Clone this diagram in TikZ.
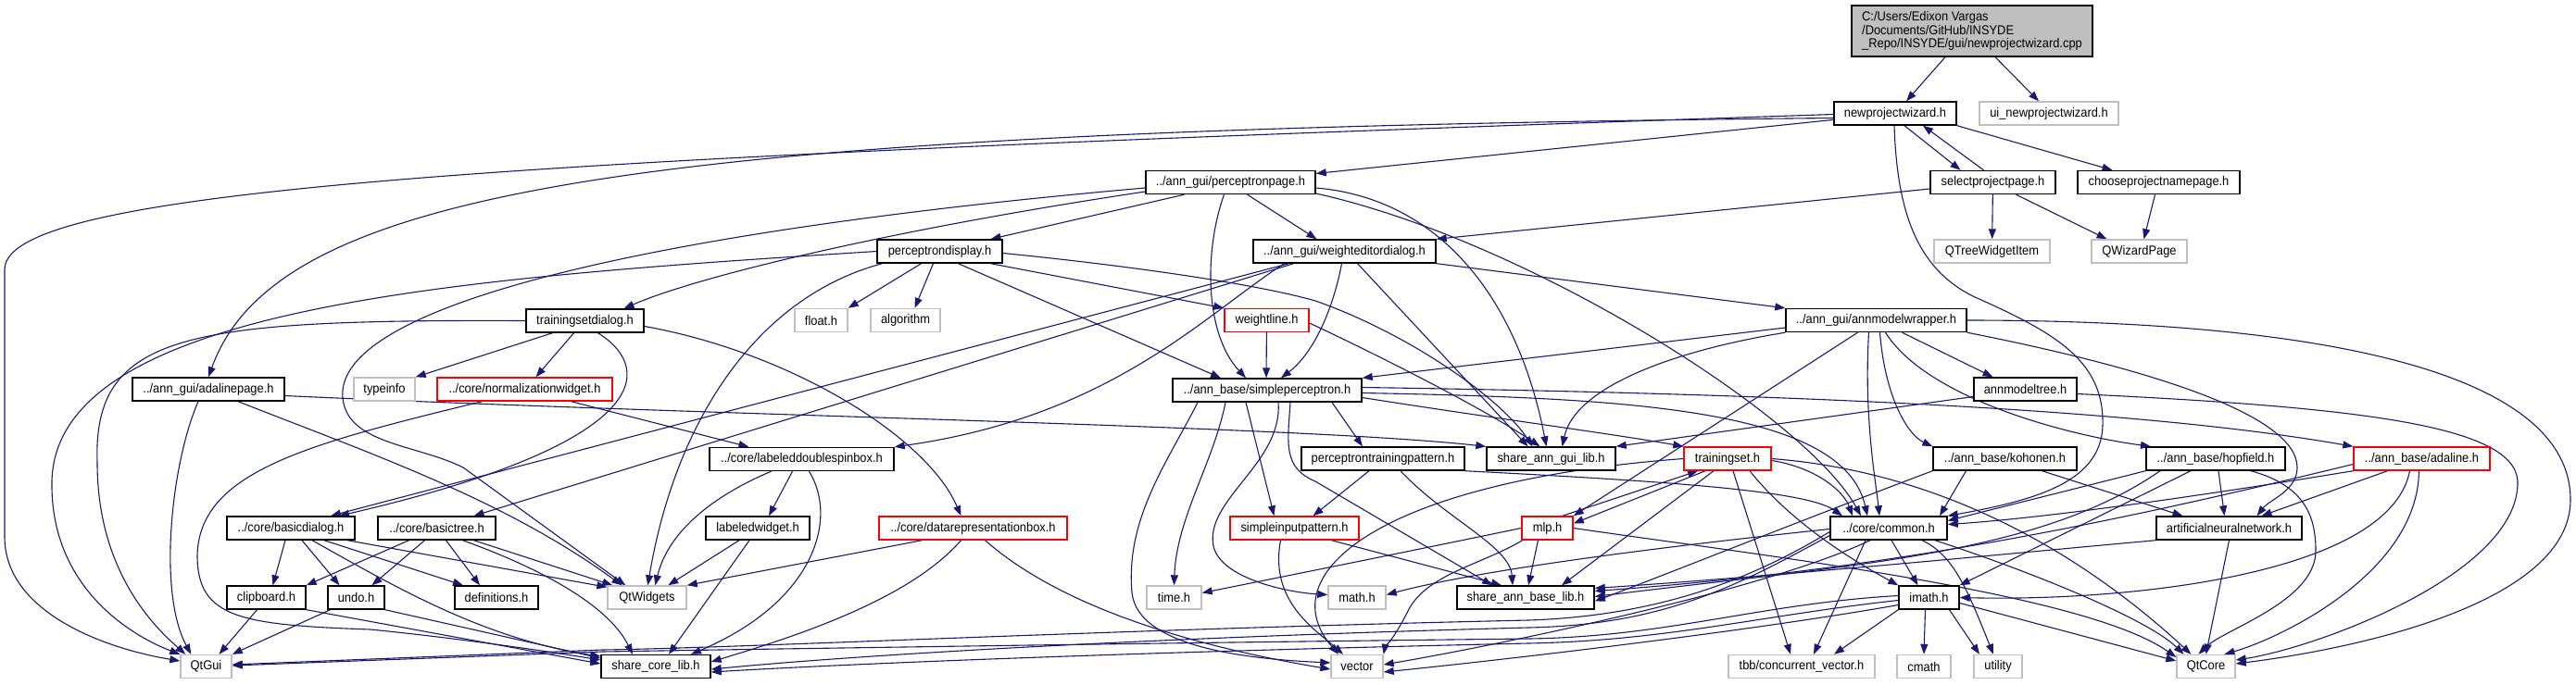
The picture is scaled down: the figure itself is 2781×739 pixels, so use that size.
\documentclass[tikz,border=0pt]{standalone}
\usepackage{fontspec}
\setmainfont{Liberation Sans}[FakeStretch=0.92]
\usetikzlibrary{arrows.meta}
\definecolor{edgec}{HTML}{191970}
\definecolor{extc}{HTML}{BFBFBF}
\definecolor{rootc}{HTML}{BFBFBF}
\newcommand{\nodefont}{\fontsize{14}{14.7}\selectfont}
\pgfdeclarelayer{bg}
\pgfdeclarelayer{edges}
\pgfsetlayers{bg,edges,main}
\tikzset{
  nb/.style={draw=black, line width=1.4pt, fill=white, inner sep=0pt, minimum height=25pt, font=\nodefont, text=black},
  gb/.style={nb, draw=extc},
  rb/.style={nb, draw=red},
  edg/.style={draw=edgec, line width=1.1pt, -{Triangle[length=11pt,width=8pt]}},
}
\begin{document}
\begin{tikzpicture}[x=1pt,y=-1pt]
\useasboundingbox (0,0) rectangle (2781,739);
\begin{pgfonlayer}{bg}
\fill[white] (0,0) rectangle (2781,739);
\end{pgfonlayer}
% nodes
\node[nb, fill=rootc, minimum width=260pt, minimum height=55pt, align=left] (root) at (2129,33.5) {C:/Users/Edixon Vargas\\/Documents/GitHub/INSYDE\\\_Repo/INSYDE/gui/newprojectwizard.cpp};
\node[nb, minimum width=132pt] (npw) at (2046,122.5) {newprojectwizard.h};
\node[gb, minimum width=150pt] (uinpw) at (2212,122.5) {ui\_newprojectwizard.h};
\node[nb, minimum width=183pt] (ppage) at (1328.5,197) {../ann\_gui/perceptronpage.h};
\node[nb, minimum width=135pt] (spp) at (2151.5,197) {selectprojectpage.h};
\node[nb, minimum width=175pt] (cpnp) at (2330.5,197) {chooseprojectnamepage.h};
\node[nb, minimum width=135pt] (pdisp) at (1014.5,271.5) {perceptrondisplay.h};
\node[nb, minimum width=197pt] (wed) at (1451.5,271.5) {../ann\_gui/weighteditordialog.h};
\node[gb, minimum width=125pt] (qtwi) at (2150.5,271.5) {QTreeWidgetItem};
\node[gb, minimum width=103pt] (qwp) at (2309.5,271.5) {QWizardPage};
\node[nb, minimum width=127pt] (tsd) at (631.5,346.5) {trainingsetdialog.h};
\node[gb, minimum width=57pt] (floath) at (886.5,346) {float.h};
\node[gb, minimum width=75pt] (algo) at (977.5,346) {algorithm};
\node[rb, minimum width=91pt] (wline) at (1367.5,346) {weightline.h};
\node[nb, minimum width=195pt] (amw) at (2025.5,346) {../ann\_gui/annmodelwrapper.h};
\node[nb, minimum width=164pt] (adp) at (225,420.5) {../ann\_gui/adalinepage.h};
\node[gb, minimum width=66pt] (typeinfo) at (415,420.5) {typeinfo};
\node[rb, minimum width=189pt] (normw) at (566.5,420.5) {../core/normalizationwidget.h};
\node[nb, minimum width=204pt] (sp) at (1368,421.5) {../ann\_base/simpleperceptron.h};
\node[nb, minimum width=111pt] (amt) at (2186.5,420.5) {annmodeltree.h};
\node[nb, minimum width=199pt] (ldsb) at (865.5,496) {../core/labeleddoublespinbox.h};
\node[nb, minimum width=176pt] (ptp) at (1493,495.5) {perceptrontrainingpattern.h};
\node[nb, minimum width=139pt] (sagl) at (1674.5,495.5) {share\_ann\_gui\_lib.h};
\node[rb, minimum width=94pt] (tset) at (1865,495.5) {trainingset.h};
\node[nb, minimum width=155pt] (koh) at (2164.5,495.5) {../ann\_base/kohonen.h};
\node[nb, minimum width=150pt] (hop) at (2392,495.5) {../ann\_base/hopfield.h};
\node[rb, minimum width=147pt] (adal) at (2614.5,495.5) {../ann\_base/adaline.h};
\node[nb, minimum width=138pt] (bdlg) at (314,570.5) {../core/basicdialog.h};
\node[nb, minimum width=127pt] (btree) at (471.5,570.5) {../core/basictree.h};
\node[nb, minimum width=112pt] (lw) at (818,570.5) {labeledwidget.h};
\node[rb, minimum width=203pt] (drb) at (1050.5,570.5) {../core/datarepresentationbox.h};
\node[rb, minimum width=139pt] (sip) at (1397.5,570.5) {simpleinputpattern.h};
\node[rb, minimum width=55pt] (mlp) at (1670.5,570.5) {mlp.h};
\node[nb, minimum width=126pt] (common) at (2039,570.5) {../core/common.h};
\node[nb, minimum width=157pt] (ann) at (2406.5,570.5) {artificialneuralnetwork.h};
\node[nb, minimum width=85pt] (clip) at (287.5,645.5) {clipboard.h};
\node[nb, minimum width=61pt] (undo) at (384.5,645.5) {undo.h};
\node[nb, minimum width=90pt] (defs) at (536,645.5) {definitions.h};
\node[gb, minimum width=85pt] (qtw) at (698.5,645.5) {QtWidgets};
\node[gb, minimum width=59pt] (timeh) at (1267.5,645.5) {time.h};
\node[gb, minimum width=62pt] (mathh) at (1465,645.5) {math.h};
\node[nb, minimum width=148pt] (sabl) at (1647,645.5) {share\_ann\_base\_lib.h};
\node[nb, minimum width=65pt] (imath) at (2082.5,645.5) {imath.h};
\node[gb, minimum width=55pt] (qtgui) at (222.5,720) {QtGui};
\node[nb, minimum width=118pt] (scl) at (708,720) {share\_core\_lib.h};
\node[gb, minimum width=56pt] (vector) at (1465,720) {vector};
\node[gb, minimum width=158pt] (tbb) at (1945,720) {tbb/concurrent\_vector.h};
\node[gb, minimum width=58pt] (cmath) at (2077,720) {cmath};
\node[gb, minimum width=52pt] (utility) at (2157,720) {utility};
\node[gb, minimum width=63pt] (qtcore) at (2381.5,720) {QtCore};

\begin{pgfonlayer}{edges}
% root
\draw[edg] ([xshift=-29pt]root.south) -- ([xshift=12pt]npw.north);
\draw[edg] ([xshift=25pt]root.south) -- ([xshift=-11pt]uinpw.north);
% npw
\draw[edg] ([yshift=-1pt]npw.west) .. controls (600,170) and (10,200) .. (5,290) -- (5,580) .. controls (5,660) and (110,700) .. ([yshift=6pt]qtgui.west);
\draw[edg] ([yshift=-5pt]npw.west) .. controls (700,140) and (300,200) .. (adp.north);
\draw[edg] (npw) -- (ppage);
\draw[edg] ([xshift=10pt]npw.south) -- ([xshift=-35pt]spp.north);
\draw[edg] (npw.south east) -- ([xshift=-50pt]cpnp.north);
\draw[edg] ([xshift=-1pt]npw.south) .. controls (2048,230) and (2070,290) .. (2130,320) .. controls (2220,360) and (2272,390) .. (2270,460) .. controls (2268,520) and (2200,540) .. (common.north east);
% spp, cpnp
\draw[edg] ([xshift=-10pt]spp.north) -- ([xshift=30pt]npw.south);
\draw[edg] (spp) -- (qtwi);
\draw[edg] ([xshift=25pt]spp.south) -- ([xshift=-35pt]qwp.north);
\draw[edg] ([yshift=-7pt]spp.west) -- (wed.north east);
\draw[edg] ([xshift=-4pt]cpnp.south) -- ([xshift=5pt]qwp.north);
% ppage
\draw[edg] ([yshift=-6pt]ppage.west) .. controls (700,250) and (360,330) .. (370,430) .. controls (375,480) and (450,480) .. (500,505) -- ([xshift=20pt]qtw.north west);
\draw[edg] ([yshift=-10pt]ppage.west) .. controls (950,250) and (750,300) .. ([xshift=42pt]tsd.north);
\draw[edg] ([xshift=-50pt]ppage.south) -- ([xshift=55pt]pdisp.north);
\draw[edg] ([xshift=-7pt]ppage.south) .. controls (1300,270) and (1300,360) .. ([xshift=-23pt]sp.north);
\draw[edg] ([xshift=18pt]ppage.south) -- ([xshift=-30pt]wed.north);
\draw[edg] ([yshift=-6pt]ppage.east) .. controls (1560,215) and (1640,330) .. ([xshift=-5pt]sagl.north);
\draw[edg] ([yshift=-12pt]ppage.east) .. controls (1650,260) and (1950,450) .. ([xshift=-30pt]common.north);
% pdisp
\draw[edg] (pdisp.west) .. controls (500,300) and (60,330) .. (56,520) .. controls (54,640) and (150,690) .. (qtgui.north west);
\draw[edg] ([xshift=-20pt]pdisp.south) -- (floath.north east);
\draw[edg] ([xshift=-7pt]pdisp.south) -- ([xshift=10pt]algo.north);
\draw[edg] ([xshift=55pt]pdisp.south) -- (wline.north west);
\draw[edg] ([xshift=20pt]pdisp.south) -- ([xshift=-50pt]sp.north);
\draw[edg] ([yshift=-2pt]pdisp.east) .. controls (1200,285) and (1350,305) .. (1420,325) .. controls (1520,360) and (1620,430) .. ([xshift=-20pt]sagl.north);
\draw[edg] ([xshift=-62pt]pdisp.south) .. controls (820,320) and (730,450) .. ([xshift=44pt]qtw.north west);
% wed
\draw[edg] (wed.south east) -- (amw.north west);
\draw[edg] ([xshift=-3pt]wed.south) .. controls (1440,330) and (1420,380) .. ([xshift=15pt]sp.north);
\draw[edg] ([xshift=14pt]wed.south) -- ([xshift=-25pt]sagl.north);
\draw[edg] ([xshift=-65pt]wed.south) .. controls (1300,340) and (1200,450) .. (ldsb.north east);
\draw[edg] ([xshift=-60pt]wed.south) -- ([xshift=43pt]bdlg.north);
\draw[edg] ([xshift=-55pt]wed.south) -- ([xshift=40pt]btree.north);
% wline
\draw[edg] (wline) -- ([xshift=-1pt]sp.north);
\draw[edg] ([yshift=-3pt]wline.east) .. controls (1480,380) and (1600,440) .. ([xshift=-12pt]sagl.north);
% tsd
\draw[edg] ([xshift=-35pt]tsd.south) -- (typeinfo.north east);
\draw[edg] ([xshift=-12pt]tsd.south) -- ([xshift=12pt]normw.north);
\draw[edg] ([xshift=14pt]tsd.south) .. controls (710,400) and (700,480) .. ([xshift=52pt]bdlg.north);
\draw[edg] ([yshift=-6pt]tsd.east) .. controls (850,380) and (1000,470) .. ([xshift=-13pt]drb.north);
\draw[edg] (tsd.west) .. controls (200,345) and (100,360) .. (105,500) .. controls (105,620) and (170,680) .. ([xshift=6pt]qtgui.north west);
% adp
\draw[edg] ([xshift=-11pt]adp.south) .. controls (185,500) and (170,640) .. ([xshift=12pt]qtgui.north west);
\draw[edg] ([xshift=32pt]adp.south) .. controls (400,490) and (545,540) .. ([xshift=16pt]qtw.north west);
\draw[edg] ([yshift=-7pt]adp.east) .. controls (800,450) and (1400,460) .. (sagl.north west);
% normw
\draw[edg] ([xshift=50pt]normw.south) -- ([xshift=-57pt]ldsb.north);
\draw[edg] ([xshift=-46pt]normw.south) .. controls (330,480) and (215,510) .. (213,600) .. controls (213,668) and (260,675) .. (400,680) .. controls (500,690) and (600,705) .. ([yshift=7pt]scl.west);
% ldsb
\draw[edg] ([xshift=-10pt]ldsb.south) -- ([xshift=12pt]lw.north);
\draw[edg] ([xshift=-33pt]ldsb.south) .. controls (760,540) and (720,580) .. ([xshift=52pt]qtw.north west);
\draw[edg] ([xshift=8pt]ldsb.south) .. controls (905,560) and (880,650) .. ([xshift=38pt]scl.north);
% lw
\draw[edg] ([xshift=-20pt]lw.south) -- ([xshift=66pt]qtw.north west);
\draw[edg] ([xshift=-9pt]lw.south) -- ([xshift=14pt]scl.north);
% drb
\draw[edg] ([xshift=-55pt]drb.south) -- (qtw.north east);
\draw[edg] ([xshift=-13pt]drb.south) .. controls (980,650) and (850,690) .. ([yshift=5pt]scl.east);
\draw[edg] ([xshift=13pt]drb.south) .. controls (1150,660) and (1300,700) .. ([yshift=-3pt]vector.west);
% bdlg
\draw[edg] ([xshift=-6pt]bdlg.south) -- ([xshift=7pt]clip.north);
\draw[edg] ([xshift=12pt]bdlg.south) -- ([xshift=-18pt]undo.north);
\draw[edg] ([xshift=36pt]bdlg.south) -- ([xshift=-36pt]defs.north);
\draw[edg] ([xshift=61pt]bdlg.south) -- ([yshift=-2pt]qtw.north west);
\draw[edg] ([xshift=23pt]bdlg.south) .. controls (420,630) and (520,690) .. ([yshift=11pt]scl.west);
% btree
\draw[edg] ([xshift=-30pt]btree.south) -- (clip.north east);
\draw[edg] ([xshift=-13pt]btree.south) -- ([xshift=17pt]undo.north);
\draw[edg] ([xshift=10pt]btree.south) -- ([xshift=-18pt]defs.north);
\draw[edg] ([xshift=40pt]btree.south) -- ([xshift=6pt]qtw.north west);
\draw[edg] ([xshift=28pt]btree.south) .. controls (600,620) and (660,660) .. ([xshift=-25pt]scl.north);
% clip, undo
\draw[edg] ([xshift=-10pt]clip.south) -- ([xshift=14pt]qtgui.north);
\draw[edg] (clip.south east) -- ([yshift=3pt]scl.west);
\draw[edg] ([xshift=-28pt]undo.south) -- (qtgui.north east);
\draw[edg] (undo.south east) -- ([yshift=9pt]scl.west);
% sp
\draw[edg] ([xshift=-45pt]sp.south) .. controls (1310,500) and (1270,560) .. (timeh.north);
\draw[edg] ([xshift=-23pt]sp.south) -- ([xshift=-22pt]sip.north);
\draw[edg] ([xshift=-75pt]sp.south) .. controls (1260,500) and (1215,560) .. (1222,640) .. controls (1228,700) and (1350,712) .. ([yshift=4pt]vector.west);
\draw[edg] ([xshift=12pt]sp.south) .. controls (1385,500) and (1300,540) .. (1310,590) .. controls (1318,625) and (1390,640) .. ([yshift=3pt]mathh.west);
\draw[edg] ([xshift=70pt]sp.south) -- ([xshift=-22pt]ptp.north);
\draw[edg] ([xshift=25pt]sp.south) .. controls (1390,480) and (1385,505) .. (1420,520) -- ([xshift=-36pt]sabl.north);
\draw[edg] ([yshift=-8pt]sp.east) .. controls (1600,450) and (1750,470) .. (tset.north west);
\draw[edg] ([yshift=-3pt]sp.east) .. controls (1750,430) and (1990,440) .. ([xshift=-23pt]common.north);
\draw[edg] ([yshift=3pt]sp.east) .. controls (1900,425) and (2300,440) .. (adal.north west);
% ptp
\draw[edg] ([xshift=-15pt]ptp.south) -- ([xshift=20pt]sip.north);
\draw[edg] ([xshift=19pt]ptp.south) .. controls (1560,560) and (1630,590) .. ([xshift=-14pt]sabl.north);
\draw[edg] (ptp.south east) .. controls (1800,520) and (1950,530) .. ([xshift=-50pt]common.north);
% sip
\draw[edg] ([xshift=40pt]sip.south) -- ([xshift=-26pt]sabl.north);
\draw[edg] ([xshift=-15pt]sip.south) .. controls (1370,650) and (1420,680) .. ([xshift=-15pt]vector.north);
% mlp
\draw[edg] ([xshift=-12pt]mlp.north east) -- ([xshift=-32pt]tset.south);
\draw[edg] ([xshift=-24pt]tset.south) -- ([yshift=5pt]mlp.east);
\draw[edg] ([xshift=-10pt]mlp.south) -- ([xshift=3pt]sabl.north);
\draw[edg] ([xshift=-27pt]mlp.south) .. controls (1600,610) and (1540,620) .. (1520,660) .. controls (1505,690) and (1495,700) .. (vector.north east);
\draw[edg] (mlp.west) .. controls (1500,600) and (1350,630) .. ([yshift=5pt]timeh.east);
\draw[edg] (mlp.east) .. controls (1900,600) and (2250,640) .. ([yshift=10pt]qtcore.west);
% tset
\draw[edg] ([xshift=-15pt]tset.south) -- ([xshift=39pt]sabl.north);
\draw[edg] (tset.west) .. controls (1490,520) and (1370,620) .. ([xshift=-20pt]vector.north);
\draw[edg] ([yshift=-2pt]tset.east) .. controls (1960,505) and (1990,530) .. ([xshift=-39pt]common.north);
\draw[edg] ([xshift=6pt]tset.south) -- ([xshift=-12pt]tbb.north);
\draw[edg] ([xshift=24pt]tset.south) .. controls (1930,560) and (1990,600) .. (imath.north west);
\draw[edg] (tset.east) .. controls (2100,510) and (2250,600) .. ([xshift=-16pt]qtcore.north);
% koh
\draw[edg] ([xshift=40pt]koh.south) -- ([xshift=-50pt]ann.north);
\draw[edg] ([xshift=-42pt]koh.south) -- ([xshift=55pt]common.north);
\draw[edg] (koh.south west) .. controls (1950,560) and (1800,620) .. ([yshift=-4pt]sabl.east);
% hop
\draw[edg] (hop.south west) -- ([yshift=8pt]common.east);
\draw[edg] ([xshift=-60pt]hop.south) .. controls (2200,600) and (2000,610) .. ([yshift=1pt]sabl.east);
\draw[edg] ([xshift=-27pt]hop.south) -- (imath.north east);
\draw[edg] ([xshift=3pt]hop.south) -- ([xshift=-5pt]ann.north);
\draw[edg] ([xshift=38pt]hop.south) .. controls (2490,525) and (2500,560) .. (2500,595) .. controls (2500,650) and (2400,680) .. ([xshift=-8pt]qtcore.north);
% adal
\draw[edg] ([xshift=-37pt]adal.south) -- ([xshift=35pt]ann.north);
\draw[edg] (adal.south west) .. controls (2350,540) and (2200,560) .. ([yshift=4pt]common.east);
\draw[edg] ([yshift=-6pt]adal.west) .. controls (2300,560) and (2050,615) .. ([yshift=7pt]sabl.east);
\draw[edg] ([xshift=-13pt]adal.south) .. controls (2580,620) and (2300,650) .. (imath.east);
\draw[edg] ([xshift=-3pt]adal.south) .. controls (2610,620) and (2460,690) .. ([xshift=20pt]qtcore.north);
% ann
\draw[edg] (ann.south) -- (qtcore.north);
\draw[edg] (ann.south west) .. controls (2200,595) and (1950,620) .. ([yshift=10pt]sabl.east);
% common
\draw[edg] ([yshift=-4pt]common.west) .. controls (1900,620) and (1800,665) .. (1650,670) .. controls (1200,680) and (800,700) .. (650,702) -- ([yshift=2pt]qtgui.east);
\draw[edg] ([yshift=-8pt]common.west) .. controls (1880,630) and (1800,675) .. (1650,678) .. controls (1200,690) and (900,710) .. ([yshift=-3pt]scl.east);
\draw[edg] ([xshift=-20pt]common.south) .. controls (1900,640) and (1600,700) .. ([yshift=2pt]vector.east);
\draw[edg] ([xshift=-25pt]common.south) -- ([xshift=13pt]tbb.north);
\draw[edg] ([xshift=3pt]common.south) -- ([xshift=-12pt]imath.north);
\draw[edg] ([xshift=36pt]common.south) .. controls (2110,600) and (2125,640) .. ([xshift=-5pt]utility.north);
\draw[edg] ([xshift=50pt]common.south) .. controls (2200,620) and (2320,670) .. ([xshift=-24pt]qtcore.north);
\draw[edg] ([yshift=-1pt]common.west) .. controls (1800,590) and (1600,615) .. ([yshift=3pt]mathh.east);
% imath
\draw[edg] ([yshift=2pt]imath.west) .. controls (1900,652) and (1800,688) .. (1650,690) .. controls (1300,694) and (900,700) .. (650,704) -- ([yshift=1pt]qtgui.east);
\draw[edg] ([yshift=-3pt]imath.west) .. controls (1900,665) and (1800,692) .. (1650,695) .. controls (1200,705) and (900,718) .. ([yshift=-6pt]scl.east);
\draw[edg] ([yshift=-8pt]imath.west) .. controls (1900,680) and (1650,710) .. ([yshift=-6pt]vector.east);
\draw[edg] (imath.south west) -- ([xshift=35pt]tbb.north);
\draw[edg] ([xshift=-4pt]imath.south) -- (cmath.north);
\draw[edg] ([xshift=22pt]imath.south) -- ([xshift=-20pt]utility.north);
\draw[edg] ([yshift=-6pt]imath.east) -- ([yshift=6pt]qtcore.west);
% amw
\draw[edg] ([yshift=-8pt]amw.west) -- (sp.north east);
\draw[edg] (amw.south west) .. controls (1800,380) and (1700,420) .. ([xshift=12pt]sagl.north);
\draw[edg] ([xshift=-20pt]amw.south) -- (mlp.north east);
\draw[edg] ([xshift=-8pt]amw.south) .. controls (2012,450) and (2025,520) .. ([xshift=-10pt]common.north);
\draw[edg] ([xshift=4pt]amw.south) .. controls (2035,430) and (2060,470) .. (koh.north west);
\draw[edg] ([xshift=10pt]amw.south) .. controls (2080,430) and (2230,470) .. ([xshift=-70pt]hop.north);
\draw[edg] ([xshift=28pt]amw.south) -- ([xshift=-35pt]amt.north);
\draw[edg] (amw.south east) .. controls (2330,400) and (2480,450) .. (2480,505) .. controls (2480,530) and (2450,540) .. ([xshift=30pt]ann.north);
\draw[edg] (amw.east) .. controls (2500,346) and (2775,400) .. (2775,540) .. controls (2775,650) and (2550,700) .. ([yshift=3pt]qtcore.east);
% amt
\draw[edg] ([yshift=-8pt]amt.west) -- (sagl.north east);
\draw[edg] ([yshift=-5pt]amt.east) .. controls (2550,440) and (2715,460) .. (2718,520) .. controls (2720,620) and (2500,700) .. ([yshift=7pt]qtcore.east);
\end{pgfonlayer}
\end{tikzpicture}
\end{document}
